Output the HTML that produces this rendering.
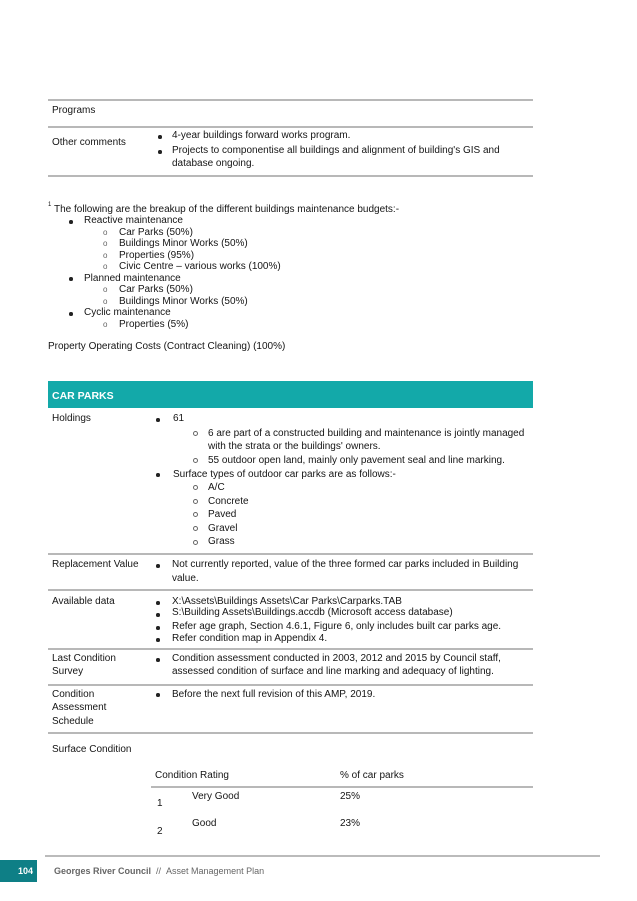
<!DOCTYPE html>
<html>
<head>
<meta charset="utf-8">
<style>
html,body{margin:0;padding:0;background:#fff;}
body{width:637px;height:901px;position:relative;overflow:hidden;font-family:"Liberation Sans",Arial,sans-serif;}
.t{position:absolute;font-size:10px;line-height:12px;color:#151515;white-space:nowrap;}
.ln{position:absolute;height:2px;background:#b8b8b8;}
.d{position:absolute;width:3.5px;height:3.5px;border-radius:50%;background:#222;}
.c{position:absolute;width:5px;height:5px;border-radius:50%;border:1px solid #666;box-sizing:border-box;}
.o{position:absolute;font-size:8px;line-height:10px;color:#666;}
</style>
</head>
<body>

<!-- top table -->
<div class="ln" style="left:48px;top:99px;width:485px;"></div>
<div class="t" style="left:52px;top:105px;">Programs</div>
<div class="ln" style="left:48px;top:126px;width:485px;"></div>
<div class="t" style="left:52px;top:137px;">Other comments</div>
<div class="d" style="left:158px;top:135px;"></div>
<div class="t" style="left:172px;top:130px;">4-year buildings forward works program.</div>
<div class="d" style="left:158px;top:150px;"></div>
<div class="t" style="left:172px;top:145px;">Projects to componentise all buildings and alignment of building's GIS and</div>
<div class="t" style="left:172px;top:158px;">database ongoing.</div>
<div class="ln" style="left:48px;top:175px;width:485px;"></div>

<!-- footnote -->
<div class="t" style="left:48px;top:201px;font-size:6px;line-height:8px;">1</div>
<div class="t" style="left:54px;top:204px;">The following are the breakup of the different buildings maintenance budgets:-</div>

<div class="d" style="left:69px;top:220px;"></div>
<div class="t" style="left:84px;top:215px;">Reactive maintenance</div>
<div class="o" style="left:103px;top:228px;">o</div>
<div class="t" style="left:119px;top:227px;">Car Parks (50%)</div>
<div class="o" style="left:103px;top:239px;">o</div>
<div class="t" style="left:119px;top:238px;">Buildings Minor Works (50%)</div>
<div class="o" style="left:103px;top:251px;">o</div>
<div class="t" style="left:119px;top:250px;">Properties (95%)</div>
<div class="o" style="left:103px;top:262px;">o</div>
<div class="t" style="left:119px;top:261px;">Civic Centre – various works (100%)</div>
<div class="d" style="left:69px;top:277px;"></div>
<div class="t" style="left:84px;top:273px;">Planned maintenance</div>
<div class="o" style="left:103px;top:285px;">o</div>
<div class="t" style="left:119px;top:284px;">Car Parks (50%)</div>
<div class="o" style="left:103px;top:297px;">o</div>
<div class="t" style="left:119px;top:296px;">Buildings Minor Works (50%)</div>
<div class="d" style="left:69px;top:312px;"></div>
<div class="t" style="left:84px;top:307px;">Cyclic maintenance</div>
<div class="o" style="left:103px;top:320px;">o</div>
<div class="t" style="left:119px;top:319px;">Properties (5%)</div>

<div class="t" style="left:48px;top:341px;">Property Operating Costs (Contract Cleaning) (100%)</div>

<!-- CAR PARKS header -->
<div style="position:absolute;left:48px;top:381px;width:485px;height:27px;background:#13a9a9;"></div>
<div class="t" style="left:52px;top:390px;color:#fff;font-weight:bold;font-size:10.5px;">CAR PARKS</div>

<!-- Holdings -->
<div class="t" style="left:52px;top:413px;">Holdings</div>
<div class="d" style="left:156px;top:418px;"></div>
<div class="t" style="left:173px;top:413px;">61</div>
<div class="c" style="left:193px;top:431px;"></div>
<div class="t" style="left:208px;top:428px;">6 are part of a constructed building and maintenance is jointly managed</div>
<div class="t" style="left:208px;top:441px;">with the strata or the buildings' owners.</div>
<div class="c" style="left:193px;top:458px;"></div>
<div class="t" style="left:208px;top:455px;">55 outdoor open land, mainly only pavement seal and line marking.</div>
<div class="d" style="left:156px;top:473px;"></div>
<div class="t" style="left:173px;top:469px;">Surface types of outdoor car parks are as follows:-</div>
<div class="c" style="left:193px;top:485px;"></div>
<div class="t" style="left:208px;top:482px;">A/C</div>
<div class="c" style="left:193px;top:499px;"></div>
<div class="t" style="left:208px;top:496px;">Concrete</div>
<div class="c" style="left:193px;top:512px;"></div>
<div class="t" style="left:208px;top:509px;">Paved</div>
<div class="c" style="left:193px;top:526px;"></div>
<div class="t" style="left:208px;top:523px;">Gravel</div>
<div class="c" style="left:193px;top:540px;"></div>
<div class="t" style="left:208px;top:536px;">Grass</div>
<div class="ln" style="left:48px;top:553px;width:485px;"></div>

<!-- Replacement Value -->
<div class="t" style="left:52px;top:559px;">Replacement Value</div>
<div class="d" style="left:156px;top:564px;"></div>
<div class="t" style="left:172px;top:559px;">Not currently reported, value of the three formed car parks included in Building</div>
<div class="t" style="left:172px;top:573px;">value.</div>
<div class="ln" style="left:48px;top:589px;width:485px;"></div>

<!-- Available data -->
<div class="t" style="left:52px;top:596px;">Available data</div>
<div class="d" style="left:156px;top:601px;"></div>
<div class="t" style="left:172px;top:596px;">X:\Assets\Buildings Assets\Car Parks\Carparks.TAB</div>
<div class="d" style="left:156px;top:613px;"></div>
<div class="t" style="left:172px;top:607px;">S:\Building Assets\Buildings.accdb (Microsoft access database)</div>
<div class="d" style="left:156px;top:626px;"></div>
<div class="t" style="left:172px;top:621px;">Refer age graph, Section 4.6.1, Figure 6, only includes built car parks age.</div>
<div class="d" style="left:156px;top:638px;"></div>
<div class="t" style="left:172px;top:633px;">Refer condition map in Appendix 4.</div>
<div class="ln" style="left:48px;top:648px;width:485px;"></div>

<!-- Last Condition Survey -->
<div class="t" style="left:52px;top:653px;">Last Condition</div>
<div class="t" style="left:52px;top:666px;">Survey</div>
<div class="d" style="left:156px;top:658px;"></div>
<div class="t" style="left:172px;top:653px;">Condition assessment conducted in 2003, 2012 and 2015 by Council staff,</div>
<div class="t" style="left:172px;top:666px;">assessed condition of surface and line marking and adequacy of lighting.</div>
<div class="ln" style="left:48px;top:684px;width:485px;"></div>

<!-- Condition Assessment Schedule -->
<div class="t" style="left:52px;top:689px;">Condition</div>
<div class="t" style="left:52px;top:702px;">Assessment</div>
<div class="t" style="left:52px;top:716px;">Schedule</div>
<div class="d" style="left:156px;top:693px;"></div>
<div class="t" style="left:172px;top:689px;">Before the next full revision of this AMP, 2019.</div>
<div class="ln" style="left:48px;top:732px;width:485px;"></div>

<!-- Surface Condition -->
<div class="t" style="left:52px;top:744px;">Surface Condition</div>
<div class="t" style="left:155px;top:770px;">Condition Rating</div>
<div class="t" style="left:340px;top:770px;">% of car parks</div>
<div class="ln" style="left:151px;top:786px;width:382px;"></div>
<div class="t" style="left:157px;top:798px;">1</div>
<div class="t" style="left:192px;top:791px;">Very Good</div>
<div class="t" style="left:340px;top:791px;">25%</div>
<div class="t" style="left:157px;top:826px;">2</div>
<div class="t" style="left:192px;top:818px;">Good</div>
<div class="t" style="left:340px;top:818px;">23%</div>

<!-- footer -->
<div style="position:absolute;left:45px;top:855px;width:555px;height:1.5px;background:#bbb;"></div>
<div style="position:absolute;left:0;top:860px;width:37px;height:22px;background:#0e7f86;"></div>
<div class="t" style="left:18px;top:865px;color:#fff;font-weight:bold;font-size:9px;">104</div>
<div class="t" style="left:54px;top:865px;font-size:9px;color:#666;"><b style="color:#666;">Georges River Council</b> &nbsp;// &nbsp;Asset Management Plan</div>

</body>
</html>
